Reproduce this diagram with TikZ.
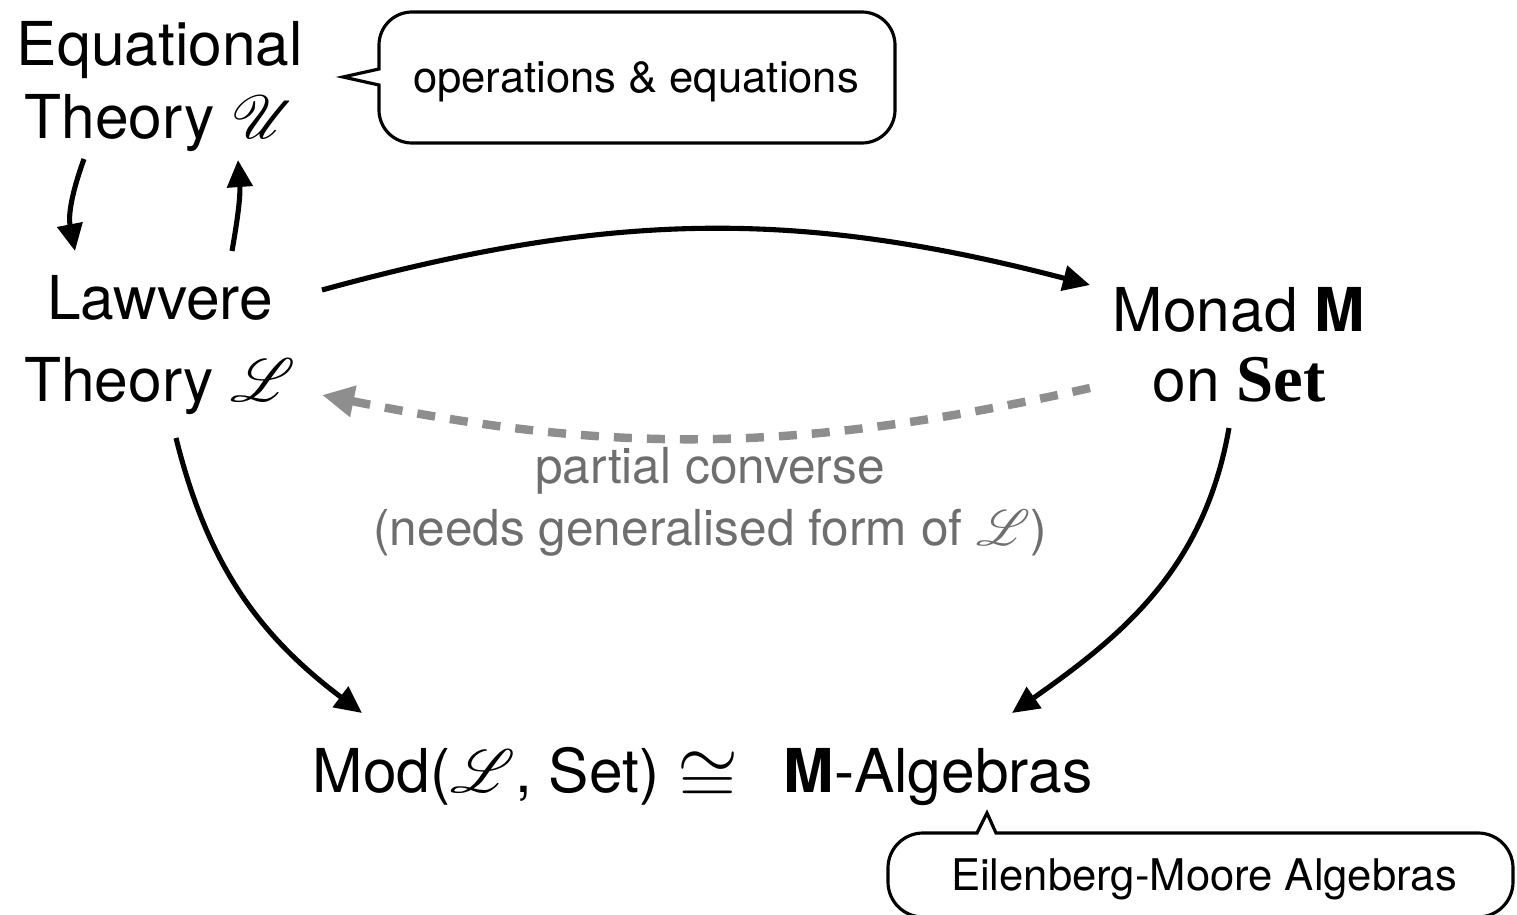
\documentclass[tikz,border=0pt]{standalone}
\usepackage{fix-cm}
\usepackage{graphicx}
\usepackage{fontspec}
\setmainfont{TeX Gyre Heros}
\newfontfamily\serifbf{Liberation Serif}
\usepackage{mathrsfs}
\usetikzlibrary{arrows.meta,calc}

\definecolor{notegray}{HTML}{6E6E6E}
\definecolor{dashgray}{HTML}{8E8E8E}

\tikzset{
  termtext/.style={font=\fontsize{17.2}{20.5}\selectfont, align=center, inner sep=0pt},
  calltext/.style={font=\fontsize{12.4}{15}\selectfont, inner sep=0pt},
  notetext/.style={font=\fontsize{14.1}{17.6}\selectfont, align=center, inner sep=0pt, text=notegray},
  arr/.style={line width=1.45pt, -{Triangle[length=0.27cm,width=0.25cm]}},
  dasharr/.style={line width=2.4pt, dashgray, dash pattern=on 0.18cm off 0.15cm, -{Triangle[length=0.32cm,width=0.3cm]}},
  bubble/.style={line width=0.9pt}
}

\begin{document}
\begin{tikzpicture}[x=0.01cm,y=0.01cm]
  %%%%% START %%%%%
  \useasboundingbox (0,0) rectangle (1517,-915);

  \node[termtext] (eqth) at (160,-86.5) {Equational\\Theory $\mathscr{U}$};
  \node[termtext] (law) at (160,-345) {Lawvere\\[2.8pt]Theory $\mathscr{L}$};
  \node[termtext] (monad) at (1239,-345) {Monad \textbf{M}\\[-0.6pt]on {\serifbf\bfseries\fontsize{19}{20}\selectfont Set}};
  \node[termtext, anchor=base west] (mod) at (312,-792)
    {Mod($\mathscr{L}$, Set)\hspace{0.3em}\raisebox{-0.1cm}{\scalebox{1.3}[1.25]{$\cong$}}\hspace{0.75em}\textbf{M}-Algebras};
  \node[notetext] (conv) at (710,-502) {partial converse\\(needs generalised form of $\mathscr{L}$)};

  % callouts
  \draw[bubble] (379,-69) -- (343,-77) -- (379,-85) -- (379,-110)
    arc[start angle=180,end angle=270,radius=33] -- (862,-143)
    arc[start angle=270,end angle=360,radius=33] -- (895,-45)
    arc[start angle=0,end angle=90,radius=33] -- (412,-12)
    arc[start angle=90,end angle=180,radius=33] -- cycle;
  \node[calltext, anchor=base] (ops) at (636,-92) {operations \& equations};

  \draw[bubble] (977,-833) -- (987,-813) -- (996,-833) -- (1478,-833)
    arc[start angle=90,end angle=0,radius=35] -- (1513,-882)
    arc[start angle=0,end angle=-90,radius=35] -- (923,-917)
    arc[start angle=270,end angle=180,radius=35] -- (888,-868)
    arc[start angle=180,end angle=90,radius=35] -- cycle;
  \node[calltext, anchor=base] (em) at (1204,-890) {Eilenberg-Moore Algebras};

  % arrows
  \draw[arr] ($(eqth)+(-76,-72.5)$) to[out=250,in=101] ($(law)+(-85,94)$);
  \draw[arr] ($(law)+(72,94)$) to[out=80,in=274] ($(eqth)+(78,-73.5)$);
  \draw[arr] ($(law)+(162,55)$) to[bend left=15] ($(monad)+(-149,60)$);
  \draw[dasharr] ($(monad)+(-149,-43)$) to[bend left=12] ($(law)+(162,-50)$);
  \draw[arr] ($(law)+(16,-93)$) to[out=-76,in=143] ($(mod.base west)+(50,79)$);
  \draw[arr] ($(monad)+(-10,-83)$) to[out=260,in=35] ($(mod.base west)+(700,79)$);
  %%%%% END %%%%%
\end{tikzpicture}
\end{document}
